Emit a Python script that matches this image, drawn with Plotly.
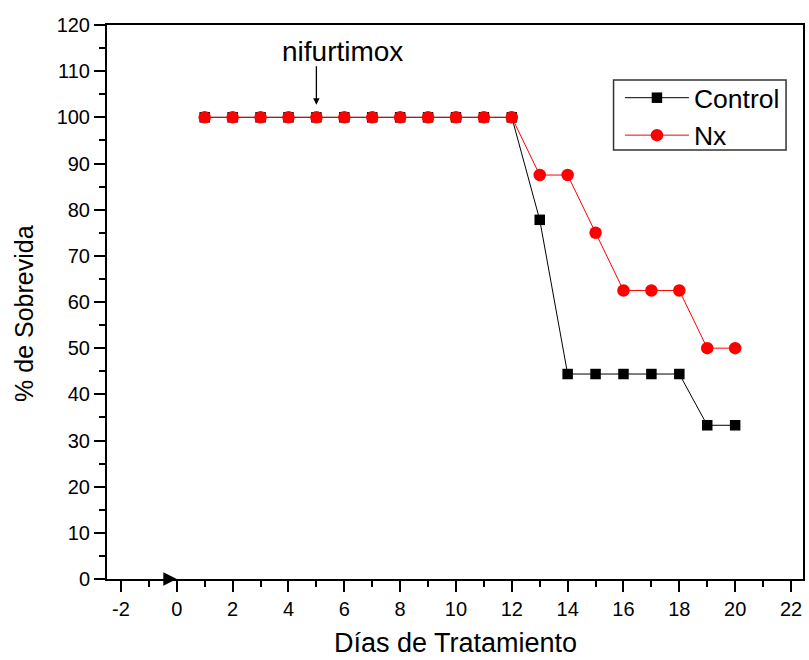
import plotly.graph_objects as go

# Survival data (% surviving) per treatment day
dias = list(range(1, 21))
control = [100] * 12 + [77.8, 44.4, 44.4, 44.4, 44.4, 44.4, 33.3, 33.3]
nx = [100] * 12 + [87.5, 87.5, 75, 62.5, 62.5, 62.5, 50, 50]

x_ticks = list(range(-2, 23, 2))
x_labels = [str(v) for v in x_ticks]  # plain hyphen minus
y_ticks = list(range(0, 121, 10))

FONT = "Liberation Sans, Arial, sans-serif"

fig = go.Figure()
fig.add_trace(go.Scatter(
    x=dias, y=control, name="Control", mode="lines+markers",
    line=dict(color="black", width=1),
    marker=dict(symbol="square", size=10.5, color="black"),
))
fig.add_trace(go.Scatter(
    x=dias, y=nx, name="Nx", mode="lines+markers",
    line=dict(color="red", width=1),
    marker=dict(symbol="circle", size=12.5, color="red"),
))

axis_common = dict(
    showline=True, linecolor="black", linewidth=2, mirror=True,
    showgrid=False, zeroline=False,
    ticks="outside", ticklen=11, tickwidth=2, tickcolor="black",
    tickfont=dict(family=FONT, size=20, color="black"),
)

fig.update_xaxes(
    range=[-2.5, 22.43], tickvals=x_ticks, ticktext=x_labels,
    minor=dict(ticks="outside", ticklen=6, tickwidth=2, tickcolor="black", dtick=1, tick0=0, showgrid=False),
    **axis_common,
)
fig.update_yaxes(
    range=[0, 120], tickvals=y_ticks,
    minor=dict(ticks="outside", ticklen=6, tickwidth=2, tickcolor="black", dtick=5, tick0=0, showgrid=False),
    **axis_common,
)

# Axis titles
fig.add_annotation(
    x=0.5, y=-0.1147, xref="paper", yref="paper", xanchor="center", yanchor="middle",
    text="Días de Tratamiento", showarrow=False,
    font=dict(family=FONT, size=27, color="black"),
)
fig.add_annotation(
    x=-0.1203, y=0.479, xref="paper", yref="paper", xanchor="center", yanchor="middle",
    text="% de Sobrevida", showarrow=False, textangle=-90,
    font=dict(family=FONT, size=25, color="black"),
)

# Treatment start marker and nifurtimox annotation
fig.add_annotation(
    x=0, y=0, ax=-14, ay=0, xref="x", yref="y",
    text="", showarrow=True, arrowhead=2, arrowsize=1.35, arrowwidth=2, arrowcolor="black",
)
fig.add_annotation(
    x=5, y=102.7, ax=0, ay=-40, text="", showarrow=True,
    arrowhead=2, arrowsize=1, arrowwidth=1.3, arrowcolor="black",
)
fig.add_annotation(
    x=5.95, y=114.3, text="nifurtimox", showarrow=False,
    font=dict(family=FONT, size=28, color="black"),
)

# Legend frame
fig.add_shape(
    type="rect", xref="paper", yref="paper",
    x0=(615 - 107) / 698, x1=(788 - 107) / 698,
    y0=(579 - 150) / 554, y1=(579 - 80) / 554,
    line=dict(color="#333", width=1.5), fillcolor="white", layer="above",
)

fig.update_layout(
    width=809, height=660,
    margin=dict(l=107, r=4, t=25, b=81),
    paper_bgcolor="white", plot_bgcolor="white",
    showlegend=True,
    legend=dict(
        x=0.737, y=0.9116, xanchor="left", yanchor="top",
        bgcolor="rgba(0,0,0,0)", borderwidth=0,
        font=dict(family=FONT, size=26.5, color="black"),
        itemwidth=64, tracegroupgap=0,
    ),
)

fig.write_html("out.html")
